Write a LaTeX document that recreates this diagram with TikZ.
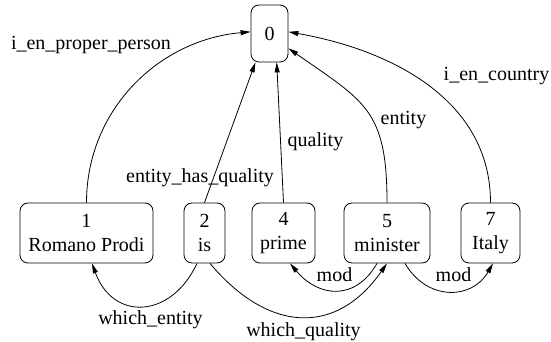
\documentclass[tikz,border=0pt]{standalone}
\usepackage{fontspec}
\setmainfont{Liberation Serif}
\newfontfamily\arcfont{Liberation Serif}
\usetikzlibrary{arrows.meta}

\tikzset{
  word/.style={draw, rounded corners=8pt, line width=0.8pt, inner sep=0pt,
    minimum height=60pt, align=center, font=\arcfont\fontsize{20}{24}\selectfont},
  rel/.style={line width=0.8pt, -{Triangle[length=10pt,width=5pt]}},
  lbl/.style={anchor=base, inner sep=0pt, font=\arcfont\fontsize{20}{24}\selectfont}
}

\begin{document}
\begin{tikzpicture}[x=1pt,y=1pt]
\useasboundingbox (0,0) rectangle (551,342);

% dependency nodes
\node[word, minimum width=37pt, minimum height=57pt] (n0) at (269.5,308.5) {0};
\node[word, minimum width=133pt] (n1) at (86.5,109) {1\\Romano Prodi};
\node[word, minimum width=41pt]  (n2) at (204.5,109) {2\\is};
\node[word, minimum width=63pt]  (n4) at (283.5,109) {4\\prime};
\node[word, minimum width=86pt]  (n5) at (387,109)   {5\\minister};
\node[word, minimum width=59pt]  (n7) at (490.5,109) {7\\Italy};

% arcs to the root
\draw[rel] (n1.north) to[out=90,in=185] (n0.175);
\draw[rel] (n2.north) -- (n0.-116);
\draw[rel] (n4.north) -- (n0.-76);
\draw[rel] (n5.north) to[out=90,in=-35,looseness=1.3] (n0.-38);
\draw[rel] (n7.north) to[out=90,in=-10] (n0.5);

% arcs below the words
\draw[rel] ([xshift=-7.5pt]n2.south) to[out=-115,in=-70,looseness=1.5] ([xshift=5.5pt]n1.south);
\draw[rel] ([xshift=5.5pt]n2.south) to[out=-50,in=-125,looseness=1.3] (n5.south);
\draw[rel] ([xshift=-10pt]n5.south) to[out=-120,in=-50,looseness=1.3] ([xshift=6.5pt]n4.south);
\draw[rel] ([xshift=18pt]n5.south) to[out=-60,in=-120,looseness=1.25] ([xshift=2.5pt]n7.south);

% arc labels
\node[lbl] (l10) at (91,292)    {i\_en\_proper\_person};
\node[lbl] (l20) at (200,159)   {entity\_has\_quality};
\node[lbl] (l40) at (315.5,195) {quality};
\node[lbl] (l50) at (403.5,217) {entity};
\node[lbl] (l70) at (496.5,261) {i\_en\_country};
\node[lbl] (l21) at (150.5,17)  {which\_entity};
\node[lbl] (l25) at (303.5,5)   {which\_quality};
\node[lbl] (l54) at (334.5,60)  {mod};
\node[lbl] (l57) at (453.5,60)  {mod};
\end{tikzpicture}
\end{document}
